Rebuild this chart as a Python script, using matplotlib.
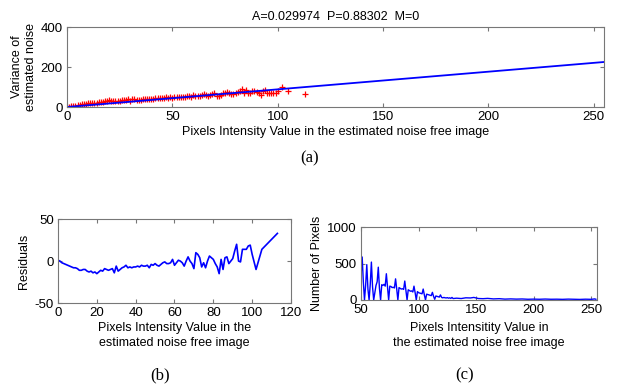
import numpy as np
import matplotlib.pyplot as plt

# parametros del ajuste (titulo)
A = 0.029974
P = 0.88302
M = 0

# residuos vs intensidad
res_x = list(range(0, 101)) + [102, 105, 113]
res_y = [1, 0, -2, -3, -4, -5, -6, -7, -8, -8,
         -9, -11, -11, -10, -10, -12, -13, -12, -14, -13,
         -15, -13, -11, -12, -9, -10, -11, -10, -9, -14,
         -6, -12, -10, -8, -7, -5, -8, -7, -8, -7,
         -7, -6, -7, -5, -6, -6, -5, -8, -4, -5,
         -3, -5, -6, -4, -2, -1, -3, -3, -2, 2,
         -5, -2, 1, 0, -2, -6, 0, 5, 0, -3,
         -9, 10, 8, 4, -7, -2, -8, 0, 6, 4,
         2, -3, -7, -15, 2, -10, 4, 5, -3, 0,
         3, 12, 20, 0, -1, 14, 14, 14, 18, 19,
         8, -10, 14, 33]

# recta ajustada
fit_x = [0, 255]

# histograma de intensidades
hist_x = list(range(50, 131)) + [133, 137, 141, 145, 148, 152, 156, 160, 165, 170,
                                  175, 180, 185, 190, 195, 200, 205, 210, 215, 220,
                                  225, 230, 235, 240, 245, 250, 253, 254]
hist_y = [330, 590, 250, 0, 200, 485, 150, 0, 210, 520,
          180, 0, 100, 200, 250, 450, 160, 0, 210, 200,
          215, 190, 360, 180, 0, 190, 185, 170, 175, 165,
          290, 150, 0, 170, 160, 150, 155, 145, 260, 130,
          0, 140, 130, 120, 125, 110, 190, 100, 0, 115,
          100, 95, 90, 85, 150, 70, 0, 80, 75, 70,
          65, 60, 105, 50, 10, 55, 50, 45, 40, 70,
          35, 30, 35, 30, 28, 32, 25, 30, 22, 35,
          20,
          25, 20, 30, 28, 35, 20, 18, 22, 15, 18,
          12, 15, 12, 14, 10, 12, 10, 13, 10, 11,
          9, 12, 10, 8, 11, 9, 15, 10]

plt.rcParams['font.family'] = ['Liberation Sans', 'DejaVu Sans']
plt.rcParams['font.size'] = 9
plt.rcParams['axes.unicode_minus'] = False

def estilo(ax):
    for s in ax.spines.values():
        s.set_color('#777777')
        s.set_linewidth(0.8)
    ax.tick_params(direction='in', top=True, right=True, length=3,
                   color='#777777', labelsize=9.5, pad=3)

fig = plt.figure(figsize=(6.27, 3.92), dpi=100)

# (a)
ax1 = fig.add_axes([0.1069, 0.727, 0.8565, 0.204])
fit_y = A + P * np.array(fit_x)
var_y = A + P * np.array(res_x) - np.array(res_y)
ax1.plot(res_x, var_y, '+', color='red', ms=4.5, mew=0.9)
ax1.plot(fit_x, fit_y, color='blue', lw=1.3)
ax1.set_xlim(0, 255)
ax1.set_ylim(0, 400)
ax1.set_xticks([0, 50, 100, 150, 200, 250])
ax1.set_yticks([0, 200, 400])
ax1.set_title('A=0.029974  P=0.88302  M=0', fontsize=9, pad=5)
ax1.set_xlabel('Pixels Intensity Value in the estimated noise free image', labelpad=2)
ax1.set_ylabel('Variance of\nestimated noise', labelpad=3)
estilo(ax1)

# (b)
ax2 = fig.add_axes([0.0925, 0.227, 0.3716, 0.214])
ax2.plot(res_x, res_y, color='blue', lw=1.2)
ax2.set_xlim(0, 120)
ax2.set_ylim(-50, 50)
ax2.set_xticks([0, 20, 40, 60, 80, 100, 120])
ax2.set_yticks([-50, 0, 50])
ax2.set_xlabel('Pixels Intensity Value in the\nestimated noise free image',
               labelpad=2, linespacing=1.35)
ax2.set_ylabel('Residuals', labelpad=3)
estilo(ax2)

# (c)
ax3 = fig.add_axes([0.5758, 0.2347, 0.3764, 0.186])
ax3.plot(hist_x, hist_y, color='blue', lw=1.0)
ax3.set_xlim(50, 255)
ax3.set_ylim(0, 1000)
ax3.set_xticks([50, 100, 150, 200, 250])
ax3.set_yticks([0, 500, 1000])
ax3.set_xlabel('Pixels Intensitity Value in\nthe estimated noise free image',
               labelpad=4, linespacing=1.35)
ax3.set_ylabel('Number of Pixels', labelpad=3)
estilo(ax3)

# etiquetas de los paneles
fig.text(310 / 627, 1 - 158 / 392, '(a)', family='Liberation Serif', fontsize=12,
         ha='center', va='center')
fig.text(160 / 627, 1 - 375 / 392, '(b)', family='Liberation Serif', fontsize=12,
         ha='center', va='center')
fig.text(465 / 627, 1 - 375 / 392, '(c)', family='Liberation Serif', fontsize=12,
         ha='center', va='center')

plt.savefig('out.png', dpi=100)
